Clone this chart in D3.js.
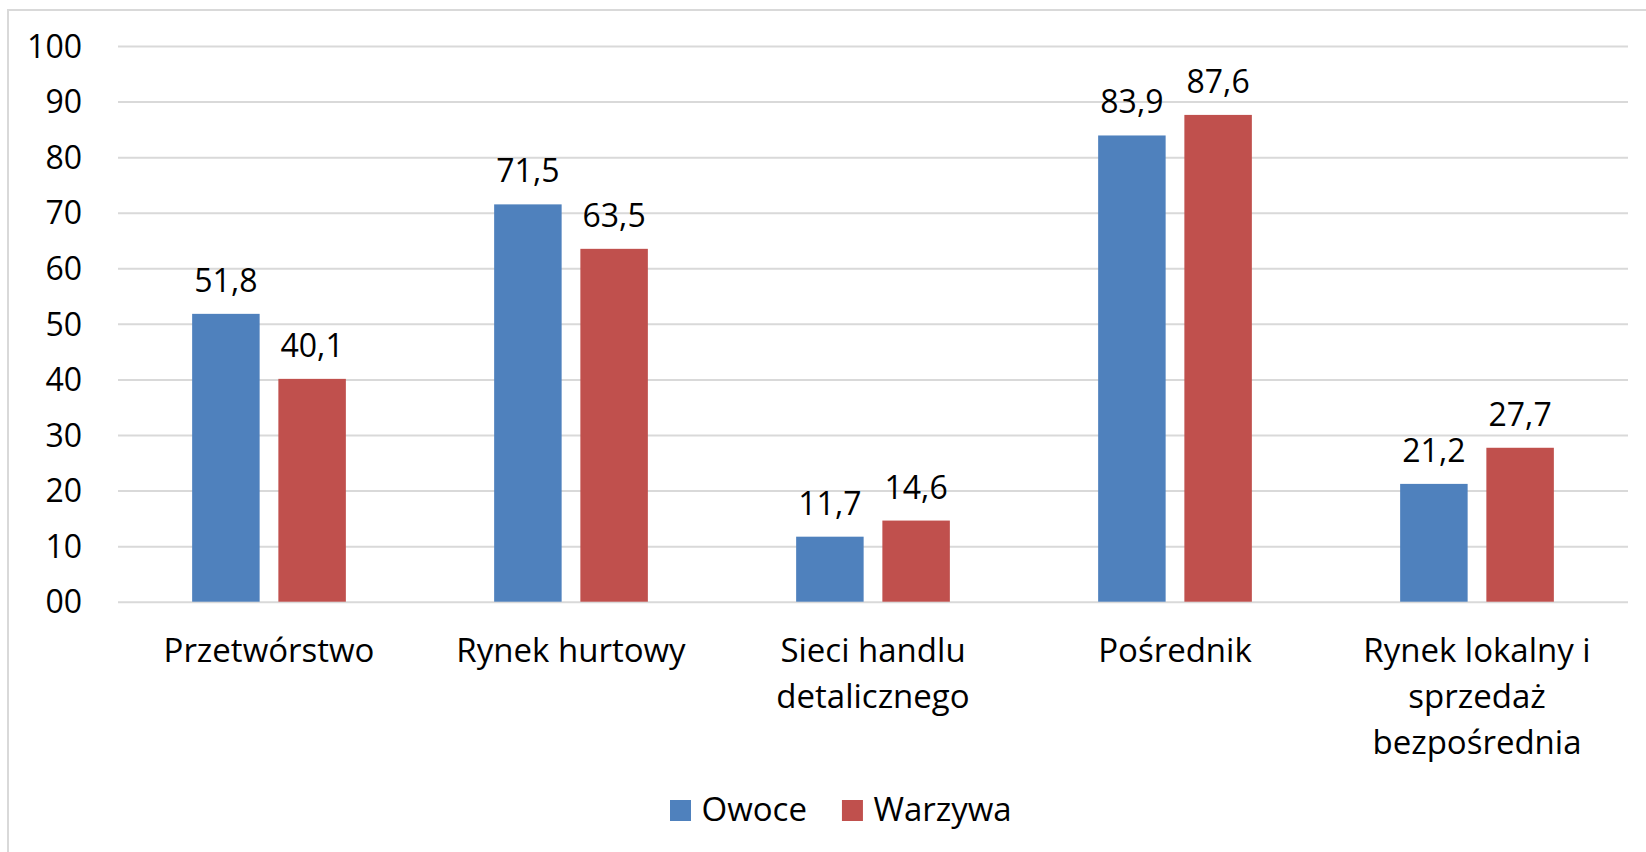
<!DOCTYPE html>
<html>
<head>
<meta charset="utf-8">
<script src="https://cdn.jsdelivr.net/npm/d3@7"></script>
<style>
  html, body { margin: 0; padding: 0; background: #ffffff; }
  svg { display: block; }
  text { font-family: "Open Sans", "Noto Sans", sans-serif; fill: #000; }
</style>
</head>
<body>
<svg id="chart" width="1646" height="852"></svg>
<script>
// ---- data ----
const categories = [
  ["Przetwórstwo"],
  ["Rynek hurtowy"],
  ["Sieci handlu", "detalicznego"],
  ["Pośrednik"],
  ["Rynek lokalny i", "sprzedaż", "bezpośrednia"]
];
const seriesNames = ["Owoce", "Warzywa"];
const owoce   = [51.8, 71.5, 11.7, 83.9, 21.2];
const warzywa = [40.1, 63.5, 14.6, 87.6, 27.7];
const yTicks = [0, 10, 20, 30, 40, 50, 60, 70, 80, 90, 100];
const yTickLabels = ["00", "10", "20", "30", "40", "50", "60", "70", "80", "90", "100"];
const colors = ["#4f81bd", "#c0504d"];

// ---- layout ----
const svg = d3.select("#chart");
const W = 1646, H = 852;
const plot = { left: 118, right: 1628, top: 46, bottom: 601.7 };
const fontSize = 32;
const catFontSize = 33;

// outer border (chart area, cropped on right/bottom)
svg.append("rect")
  .attr("x", 8).attr("y", 10)
  .attr("width", W).attr("height", H)
  .attr("fill", "none").attr("stroke", "#d9d9d9").attr("stroke-width", 2);

const x0 = d3.scaleBand()
  .domain(d3.range(categories.length))
  .range([plot.left, plot.right])
  .paddingInner(0).paddingOuter(0);

const y = d3.scaleLinear().domain([0, 100]).range([plot.bottom, plot.top]);

const bw = x0.bandwidth();
const barW = bw * 0.2235;
const gap = bw * 0.062;
const x1 = d3.scaleBand()
  .domain(d3.range(seriesNames.length))
  .range([0, barW * 2 + gap])
  .paddingInner(gap / (barW + gap))
  .paddingOuter(0);
const groupOffset = (bw - (barW * 2 + gap)) / 2;

// gridlines via axis
const yAxis = d3.axisLeft(y)
  .tickValues(yTicks)
  .tickSize(-(plot.right - plot.left))
  .tickFormat((d, i) => yTickLabels[i]);

const gy = svg.append("g")
  .attr("transform", `translate(${plot.left},0)`)
  .call(yAxis);
gy.select(".domain").remove();
gy.selectAll(".tick line").attr("stroke", "#d9d9d9").attr("stroke-width", 2);
gy.selectAll(".tick text")
  .attr("x", -(plot.left - 82))
  .attr("dy", "0.35em")
  .attr("text-anchor", "end")
  .style("font-family", '"Open Sans", "Noto Sans", sans-serif')
  .style("font-size", fontSize + "px")
  .attr("fill", "#000");

// bars
const seriesData = [owoce, warzywa];
seriesData.forEach((vals, si) => {
  const g = svg.append("g");
  g.selectAll("rect")
    .data(vals)
    .join("rect")
    .attr("x", (d, i) => x0(i) + groupOffset + x1(si))
    .attr("y", d => y(d))
    .attr("width", x1.bandwidth())
    .attr("height", d => y(0) - y(d))
    .attr("fill", colors[si]);
  g.selectAll("text")
    .data(vals)
    .join("text")
    .attr("x", (d, i) => x0(i) + groupOffset + x1(si) + x1.bandwidth() / 2)
    .attr("y", d => y(d) - 22)
    .attr("text-anchor", "middle")
    .style("font-size", fontSize + "px")
    .text(d => d.toFixed(1).replace(".", ","));
});

// category labels
const catG = svg.append("g");
categories.forEach((lines, i) => {
  const t = catG.append("text")
    .attr("text-anchor", "middle")
    .style("font-size", catFontSize + "px");
  lines.forEach((ln, li) => {
    t.append("tspan")
      .attr("x", x0(i) + bw / 2)
      .attr("y", 661.7 + li * 46)
      .text(ln);
  });
});

// legend
const leg = svg.append("g");
let lx = 670;
const sq = 21;
seriesNames.forEach((name, i) => {
  leg.append("rect")
    .attr("x", lx).attr("y", 800)
    .attr("width", sq).attr("height", sq)
    .attr("fill", colors[i]);
  const t = leg.append("text")
    .attr("x", lx + sq + 10.5)
    .attr("y", 821)
    .style("font-size", catFontSize + "px")
    .text(name);
  lx = lx + sq + 10.5 + t.node().getComputedTextLength() + 35;
});
</script>
</body>
</html>
